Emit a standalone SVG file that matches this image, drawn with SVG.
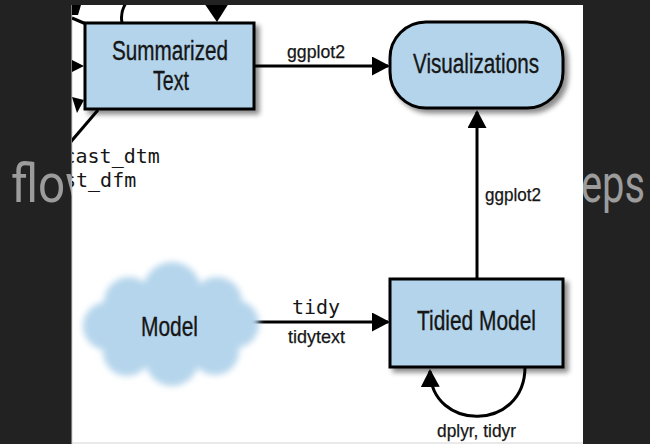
<svg xmlns="http://www.w3.org/2000/svg" width="650" height="444" viewBox="0 0 650 444">
  <defs>
    <style>
      .caption { font-family: Roboto, "Liberation Sans", sans-serif; font-size: 53px; fill: #9c9c9c; }
      .node-box { fill: #b3d4ea; stroke: #000; stroke-width: 3; }
      .node-label { font-family: "Liberation Sans Narrow", "Liberation Sans", Arial, sans-serif; font-size: 27px; fill: #161616; stroke: #161616; stroke-width: 0.35; }
      .edge { fill: none; stroke: #000; stroke-width: 3; }
      .edge-label { font-family: "Liberation Sans Narrow", "Liberation Sans", Arial, sans-serif; font-size: 19px; fill: #161616; stroke: #161616; stroke-width: 0.25; }
      .code-label { font-family: "DejaVu Sans Mono", "Liberation Mono", monospace; font-size: 20px; fill: #161616; }
      .head { fill: #000; }
    </style>
    <marker id="arrow" markerUnits="userSpaceOnUse" markerWidth="18" markerHeight="19" refX="16" refY="9.5" orient="auto">
      <path d="M0,0 L18,9.5 L0,19 Z" fill="#000"/>
    </marker>
    <filter id="shadow" x="-20%" y="-20%" width="150%" height="150%">
      <feDropShadow dx="4" dy="4" stdDeviation="2.5" flood-color="#000" flood-opacity="0.45"/>
    </filter>
    <filter id="soft" x="-20%" y="-20%" width="140%" height="140%">
      <feGaussianBlur stdDeviation="3"/>
    </filter>
    <clipPath id="panel-clip">
      <rect x="72" y="5" width="511" height="439"/>
    </clipPath>
  </defs>

  <!-- page background and caption behind the figure panel -->
  <rect x="0" y="0" width="650" height="444" fill="#222"/>
  <text class="caption" x="11" y="202" textLength="90" lengthAdjust="spacingAndGlyphs">flow</text>
  <text class="caption" x="581" y="202" textLength="64" lengthAdjust="spacingAndGlyphs">eps</text>

  <!-- figure panel -->
  <rect x="72" y="5" width="511" height="439" fill="#fff"/>
  <line x1="72" y1="5" x2="72" y2="444" stroke="#cfcfcf" stroke-width="1"/>
  <line x1="72" y1="443" x2="583" y2="443" stroke="#d4d4d4" stroke-width="1"/>

  <g clip-path="url(#panel-clip)">
    <!-- connectors -->
    <g id="connectors">
      <path class="edge" d="M255 66 L388 66" marker-end="url(#arrow)"/>
      <text class="edge-label" x="287" y="58" textLength="58" lengthAdjust="spacingAndGlyphs">ggplot2</text>

      <path class="edge" d="M477 279 L477 112" marker-end="url(#arrow)"/>
      <text class="edge-label" x="485" y="201" textLength="56" lengthAdjust="spacingAndGlyphs">ggplot2</text>

      <path class="edge" d="M250 322 L388 322" marker-end="url(#arrow)"/>
      <text class="code-label" x="292" y="314">tidy</text>
      <text class="edge-label" x="288" y="343" textLength="57" lengthAdjust="spacingAndGlyphs">tidytext</text>

      <path class="edge" d="M525 367 C525 432 431 432 430 371" marker-end="url(#arrow)"/>
      <text class="edge-label" x="437" y="437" textLength="79" lengthAdjust="spacingAndGlyphs">dplyr, tidyr</text>

      <!-- edges entering from the left of the panel -->
      <path class="edge" d="M122 23 Q120 12 126 3"/>
      <polygon class="head" points="204,3 229,3 217,22"/>
      <polygon class="head" points="70,4 81,5 78,15 70,15"/>
      <path class="edge" d="M72 18 L86 24" stroke-width="2.5"/>
      <path class="edge" d="M70 66 L76 66"/>
      <polygon class="head" points="70,59 84,66 70,73"/>
      <polygon class="head" points="72,97 84,100 77,113"/>
      <path class="edge" d="M68 145 L98 110"/>
      <text class="code-label" x="63.5" y="163">cast_dtm</text>
      <text class="code-label" x="64" y="187">st_dfm</text>
    </g>

    <g id="summarized-text">
      <rect class="node-box" x="85" y="23" width="169" height="86" filter="url(#shadow)"/>
      <text class="node-label" x="112" y="60" textLength="116" lengthAdjust="spacingAndGlyphs">Summarized</text>
      <text class="node-label" x="153" y="90" textLength="36" lengthAdjust="spacingAndGlyphs">Text</text>
    </g>

    <g id="visualizations">
      <rect class="node-box" x="390" y="22" width="173" height="86" rx="36" ry="36" filter="url(#shadow)"/>
      <text class="node-label" x="413" y="73" textLength="126" lengthAdjust="spacingAndGlyphs">Visualizations</text>
    </g>

    <g id="model">
      <g fill="#b5d5ec" filter="url(#soft)">
        <ellipse cx="170" cy="323" rx="70" ry="42"/>
        <circle cx="172" cy="291" r="29"/>
        <circle cx="129" cy="302" r="25"/>
        <circle cx="217" cy="302" r="25"/>
        <circle cx="107" cy="326" r="24"/>
        <circle cx="235" cy="324" r="24"/>
        <circle cx="127" cy="352" r="24"/>
        <circle cx="172" cy="359" r="27"/>
        <circle cx="215" cy="351" r="24"/>
      </g>
      <text class="node-label" x="141" y="336" textLength="57" lengthAdjust="spacingAndGlyphs">Model</text>
    </g>

    <g id="tidied-model">
      <rect class="node-box" x="390" y="279" width="173" height="88" filter="url(#shadow)"/>
      <text class="node-label" x="417" y="330" textLength="119" lengthAdjust="spacingAndGlyphs">Tidied Model</text>
    </g>
  </g>
</svg>
